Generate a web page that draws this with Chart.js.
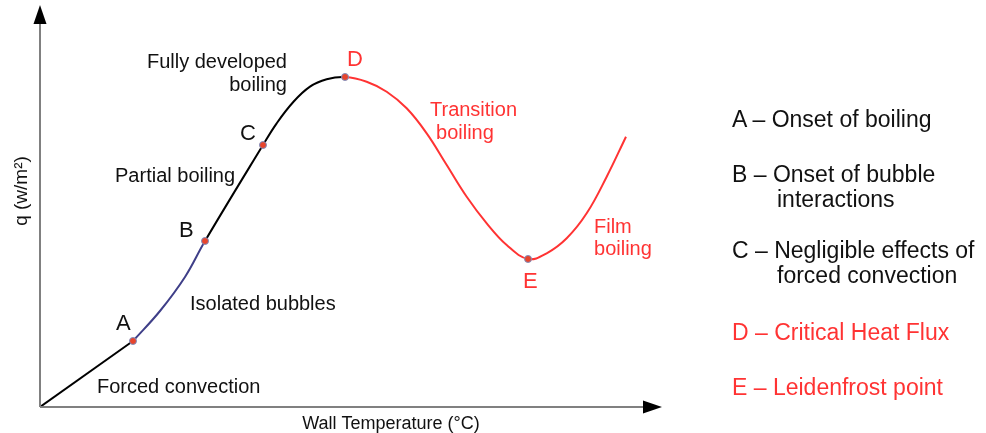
<!DOCTYPE html>
<html>
<head>
<meta charset="utf-8">
<script src="https://cdn.jsdelivr.net/npm/chart.js@4/dist/chart.umd.min.js"></script>
<style>
  html, body { margin: 0; padding: 0; background: #fff; }
  #wrap { position: relative; width: 986px; height: 433px; }
  #chart { position: absolute; left: 0; top: 0; }
  .key { position: absolute; font: 23px "Liberation Sans", Arial, sans-serif; line-height: 23px; white-space: nowrap; color: #111; }
  .key.red { color: #ff3333; }
</style>
</head>
<body>
<div id="wrap">
  <canvas id="chart" width="986" height="433"></canvas>
</div>
<script>
// --- Data (wall temperature / heat flux, arbitrary units 0-100) ----------

// straight forced-convection part, origin to A
const convectionT = [0, 14.95];
const convectionQ = [0, 16.42];

// boiling curve from A onward; each regime ends where the next starts
const bubblesT = [14.95, 19.29, 23.31, 26.53];
const bubblesQ = [16.42, 23.88, 32.34, 41.29];

const nucleateT = [35.85, 38.05, 40.72, 43.41, 46.09, 49.04];
const nucleateQ = [65.17, 70.57, 75.87, 79.68, 81.52, 82.09];

const transitionT = [52.52, 55.74, 58.95, 62.17, 65.39, 68.6, 71.82, 75.03, 78.46];
const transitionQ = [80.92, 78.43, 74.3, 68.08, 60.2, 52.31, 45.7, 40.3, 36.82];

const filmT = [81.46, 84.68, 87.89, 91.11, 94.21];
const filmQ = [38.23, 41.97, 48.18, 57.29, 67.24];

const markerNames = ["A", "B", "C", "D", "E"];
const markerT = [14.95, 26.53, 35.85, 49.04, 78.46];
const markerQ = [16.42, 41.29, 65.17, 82.09, 36.82];

const RED = "#ff3333";
const BLUE = "#3f3f88";
const INK = "#111";
const FONT = '"Liberation Sans", Arial, sans-serif';

const pts = (xs, ys) => xs.map((x, i) => ({ x, y: ys[i] }));

const curveT = [...bubblesT, ...nucleateT, ...transitionT, ...filmT];
const curveQ = [...bubblesQ, ...nucleateQ, ...transitionQ, ...filmQ];
const blueTo = bubblesT.length - 1;
const redFrom = bubblesT.length + nucleateT.length - 1;

function segColor(ctx) {
  const i = ctx.p0DataIndex;
  if (i >= redFrom) return RED;
  if (i < blueTo) return BLUE;
  return "#000";
}

// --- In-plot labels (anchored in data units) -------------------------------

const labels = [
  { text: "Fully developed", x: 39.71, y: 84.3, align: "right", size: 20, color: INK },
  { text: "boiling", x: 39.71, y: 78.6, align: "right", size: 20, color: INK },
  { text: "Partial boiling", x: 12.06, y: 55.97, align: "left", size: 20, color: INK },
  { text: "Isolated bubbles", x: 24.12, y: 24.13, align: "left", size: 20, color: INK },
  { text: "Forced convection", x: 9.16, y: 3.48, align: "left", size: 20, color: INK },
  { text: "Transition", x: 62.7, y: 72.39, align: "left", size: 20, color: RED },
  { text: "boiling", x: 63.67, y: 66.67, align: "left", size: 20, color: RED },
  { text: "Film", x: 89.07, y: 43.35, align: "left", size: 20, color: RED },
  { text: "boiling", x: 89.07, y: 37.89, align: "left", size: 20, color: RED },
  { text: markerNames[0], x: 12.22, y: 19.15, align: "left", size: 22, color: INK },
  { text: markerNames[1], x: 22.35, y: 42.29, align: "left", size: 22, color: INK },
  { text: markerNames[2], x: 32.15, y: 66.42, align: "left", size: 22, color: INK },
  { text: markerNames[3], x: 49.36, y: 84.83, align: "left", size: 22, color: RED },
  { text: markerNames[4], x: 77.65, y: 29.6, align: "left", size: 22, color: RED },
];

const annotate = {
  id: "annotate",
  afterDraw(chart) {
    const { ctx, chartArea: a, scales } = chart;
    ctx.save();

    // axes with arrow heads
    ctx.strokeStyle = "#808080";
    ctx.lineWidth = 2;
    ctx.beginPath();
    ctx.moveTo(a.left, a.bottom);
    ctx.lineTo(a.left, a.top + 19);
    ctx.moveTo(a.left, a.bottom);
    ctx.lineTo(a.right - 19, a.bottom);
    ctx.stroke();

    ctx.fillStyle = "#000";
    ctx.beginPath();
    ctx.moveTo(a.left, a.top);
    ctx.lineTo(a.left - 6.5, a.top + 19);
    ctx.lineTo(a.left + 6.5, a.top + 19);
    ctx.closePath();
    ctx.fill();
    ctx.beginPath();
    ctx.moveTo(a.right, a.bottom);
    ctx.lineTo(a.right - 19, a.bottom - 6.5);
    ctx.lineTo(a.right - 19, a.bottom + 6.5);
    ctx.closePath();
    ctx.fill();

    // axis titles
    ctx.fillStyle = INK;
    ctx.font = `18px ${FONT}`;
    ctx.textAlign = "center";
    ctx.textBaseline = "alphabetic";
    ctx.fillText("Wall Temperature (°C)", 391, 429);
    ctx.save();
    ctx.translate(27, 191);
    ctx.rotate(-Math.PI / 2);
    ctx.font = `19px ${FONT}`;
    ctx.fillText("q (w/m²)", 0, 0);
    ctx.restore();

    for (const l of labels) {
      ctx.font = `${l.size}px ${FONT}`;
      ctx.fillStyle = l.color;
      ctx.textAlign = l.align;
      ctx.fillText(l.text, scales.x.getPixelForValue(l.x), scales.y.getPixelForValue(l.y));
    }
    ctx.restore();
  },
};

new Chart(document.querySelector("#chart"), {
  type: "line",
  data: {
    datasets: [
      {
        label: "points",
        data: pts(markerT, markerQ),
        showLine: false,
        pointRadius: 3.5,
        pointBackgroundColor: "#e8452c",
        pointBorderColor: "#7d8fc0",
        pointBorderWidth: 1,
      },
      {
        label: "forced convection",
        data: pts(convectionT, convectionQ),
        borderColor: "#000",
        borderWidth: 2,
        pointRadius: 0,
        tension: 0,
      },
      {
        label: "boiling curve",
        data: pts(curveT, curveQ),
        borderColor: "#000",
        borderWidth: 2,
        pointRadius: 0,
        fill: false,
        tension: 0.4,
        segment: { borderColor: segColor },
      },
    ],
  },
  options: {
    responsive: false,
    animation: false,
    layout: { padding: { left: 40, right: 324, top: 5, bottom: 26 } },
    plugins: { legend: { display: false }, tooltip: { enabled: false } },
    scales: {
      x: { type: "linear", min: 0, max: 100, display: false },
      y: { type: "linear", min: 0, max: 100, display: false },
    },
  },
  plugins: [annotate],
});

// --- Key on the right ---------------------------------------------------

const key = [
  { text: "A – Onset of boiling", left: 732, base: 127, red: false },
  { text: "B – Onset of bubble", left: 732, base: 182, red: false },
  { text: "interactions", left: 777, base: 207, red: false },
  { text: "C – Negligible effects of", left: 732, base: 258, red: false },
  { text: "forced convection", left: 777, base: 283, red: false },
  { text: "D – Critical Heat Flux", left: 732, base: 340, red: true },
  { text: "E – Leidenfrost point", left: 732, base: 395, red: true },
];
const wrap = document.querySelector("#wrap");
for (const k of key) {
  const div = document.createElement("div");
  div.className = k.red ? "key red" : "key";
  div.textContent = k.text;
  div.style.left = k.left + "px";
  div.style.top = (k.base - 19.5) + "px";
  wrap.appendChild(div);
}
</script>
</body>
</html>
